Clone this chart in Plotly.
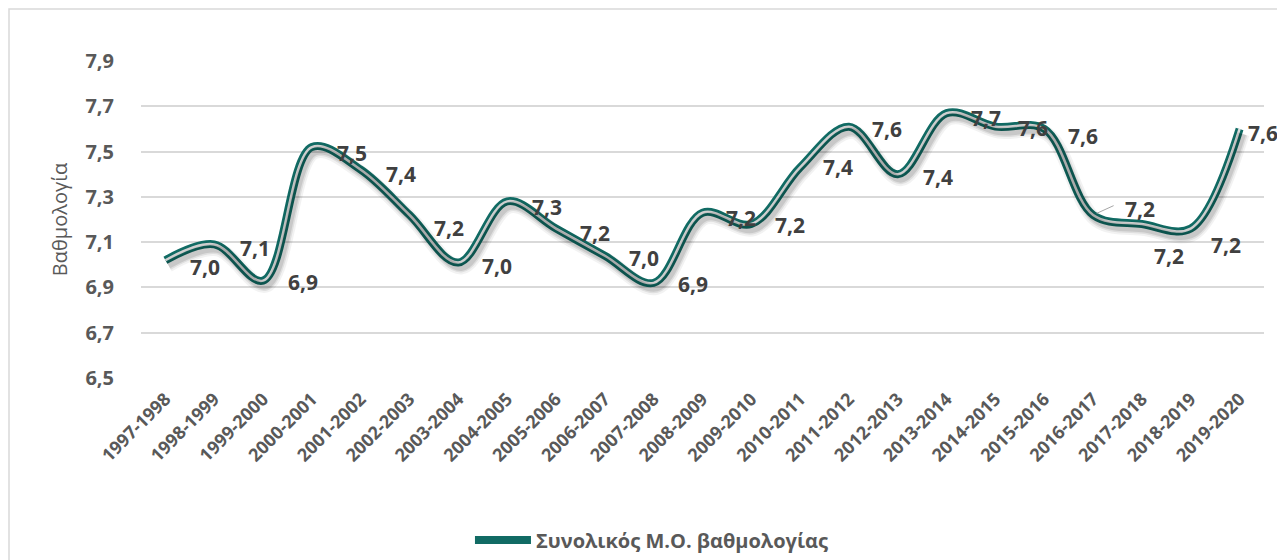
import plotly.graph_objects as go

years = ["1997-1998", "1998-1999", "1999-2000", "2000-2001", "2001-2002", "2002-2003",
         "2003-2004", "2004-2005", "2005-2006", "2006-2007", "2007-2008", "2008-2009",
         "2009-2010", "2010-2011", "2011-2012", "2012-2013", "2013-2014", "2014-2015",
         "2015-2016", "2016-2017", "2017-2018", "2018-2019", "2019-2020"]
avg_grade = [7.02, 7.09, 6.93, 7.52, 7.42, 7.22, 7.01, 7.28, 7.16, 7.04, 6.92, 7.23,
             7.18, 7.43, 7.61, 7.40, 7.67, 7.61, 7.60, 7.22, 7.18, 7.16, 7.60]
series_name = "Συνολικός Μ.Ο. βαθμολογίας"
y_title = "Βαθμολογία"
y_ticks = [6.5, 6.7, 6.9, 7.1, 7.3, 7.5, 7.7, 7.9]

# label offsets in pixels (dx right, dy down) – styling only
label_dx = [40, 41, 40, 40, 40, 39, 39, 40, 39, 39, 39, 38, 39, 38, 38, 40, 39, 38, 39, 47, 27, 35, 23]
label_dy = [7, 4, 1, 6, 4, 13, 3, 6, 4, 2, 1, 5, 1, 0, 2, 3, 5, 1, 7, -6, 32, 16, 4]

TEAL = "#116b64"
FONT = "Open Sans"

W, H = 1277, 552
L, T, PW, PH = 133, 53, 1123, 317
Y0, Y1 = 6.5, 7.9
X0, X1 = -0.5, len(years) - 0.5
# shadow offset (px) expressed in axis units
SH_DX, SH_DY = 3, 5
sh_xoff = SH_DX * (X1 - X0) / PW
sh_yoff = SH_DY * (Y1 - Y0) / PH

fig = go.Figure()
# soft shadow, drawn on shifted overlay axes
for w, a in [(14, 0.05), (10, 0.08), (7, 0.10)]:
    fig.add_trace(go.Scatter(
        x=years, y=avg_grade, mode="lines", xaxis="x2", yaxis="y2",
        line=dict(color=f"rgba(0,0,0,{a})", width=w, shape="spline", smoothing=1.0),
        showlegend=False, hoverinfo="skip"))
fig.add_trace(go.Scatter(
    x=years, y=avg_grade, mode="lines", name=series_name,
    line=dict(color=TEAL, width=8, shape="spline", smoothing=1.0),
    showlegend=True, hoverinfo="skip"))
fig.add_trace(go.Scatter(
    x=years, y=avg_grade, mode="lines", name=series_name,
    line=dict(color="#dcdcdc", width=2.5, shape="spline", smoothing=1.0),
    showlegend=False))

for i, (x, v) in enumerate(zip(years, avg_grade)):
    txt = f"{v:.1f}".replace(".", ",")
    fig.add_annotation(x=x, y=v, text=f"<b>{txt}</b>", showarrow=False,
                       xshift=label_dx[i], yshift=-label_dy[i],
                       xanchor="center", yanchor="middle",
                       font=dict(family=FONT, size=21, color="#404040"))

# leader line for the 2016-2017 label
fig.add_annotation(x=years[19], y=avg_grade[19], text="", showarrow=True,
                   ax=22, ay=-10, arrowhead=0, arrowwidth=1, arrowcolor="#a6a6a6",
                   standoff=4)

fig.update_layout(
    width=W, height=H,
    margin=dict(l=L, r=W - L - PW, t=T, b=H - T - PH, autoexpand=False),
    paper_bgcolor="white", plot_bgcolor="white",
    separators=",.",
    font=dict(family=FONT, color="#595959"),
    showlegend=True,
    legend=dict(orientation="h", x=0.455, xanchor="center", y=-0.511, yanchor="middle",
                font=dict(family=FONT, size=20, color="#595959", weight="bold"),
                itemwidth=56, bgcolor="rgba(0,0,0,0)"),
    xaxis=dict(type="category", range=[X0, X1], tickangle=-45,
               showgrid=False, zeroline=False, showline=False, ticks="",
               ticklabelstandoff=6, automargin=False,
               tickfont=dict(family=FONT, size=18, color="#595959", weight="bold")),
    yaxis=dict(range=[Y0, Y1], tickvals=y_ticks, tickformat=".1f",
               showgrid=True, gridcolor="#d9d9d9", gridwidth=1.5, zeroline=False,
               showline=False, ticklabelstandoff=26, automargin=False,
               tickfont=dict(family=FONT, size=20, color="#595959", weight="bold"),
               title=dict(text=y_title, standoff=12,
                          font=dict(family=FONT, size=20, color="#595959"))),
    xaxis2=dict(type="category", overlaying="x", range=[X0 - sh_xoff, X1 - sh_xoff],
                visible=False, categoryorder="array", categoryarray=years),
    yaxis2=dict(overlaying="y", range=[Y0 + sh_yoff, Y1 + sh_yoff], visible=False),
    shapes=[dict(type="rect", xref="paper", yref="paper",
                 x0=(1 - L) / PW, x1=(W + 20 - L) / PW,
                 y0=(T + PH - H - 20) / PH, y1=(T + PH - 1) / PH,
                 line=dict(color="#d9d9d9", width=1.5), layer="below")],
)
fig.update_traces(cliponaxis=False)

fig.write_html("out.html")
